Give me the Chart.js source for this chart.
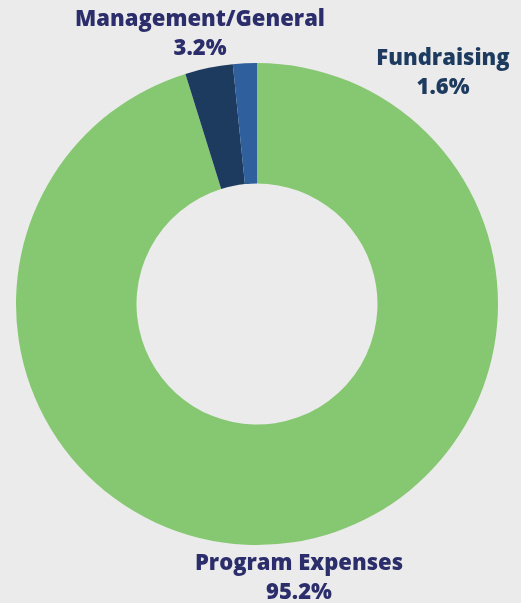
<!DOCTYPE html>
<html>
<head>
<meta charset="utf-8">
<script src="https://cdn.jsdelivr.net/npm/chart.js@4.4.1/dist/chart.umd.min.js"></script>
<style>
  html, body { margin: 0; padding: 0; background: #ebebeb; }
  #wrap { width: 521px; height: 603px; position: relative; }
</style>
</head>
<body>
<div id="wrap"><canvas id="pieChart"></canvas></div>
<script>
// data
const categories = ["Program Expenses", "Management/General", "Fundraising"];
const values = [95.2, 3.2, 1.6];
const colors = ["#86c872", "#1d3a5f", "#2f5f9c"];
const labelColors = ["#2c2e6b", "#2c2e6b", "#1d3a5f"];

// where each label sits (relative to the chart centre) - tuned by eye
const labelSpots = [
  { dx: 42, dy: 259 },
  { dx: -57, dy: -285 },
  { dx: 186, dy: -246 }
];

const labelPlugin = {
  id: "outsideLabels",
  afterDraw(chart) {
    const ctx = chart.ctx;
    const area = chart.chartArea;
    const cx = (area.left + area.right) / 2;
    const cy = (area.top + area.bottom) / 2;
    ctx.save();
    ctx.textAlign = "center";
    ctx.textBaseline = "middle";
    ctx.font = "800 22px 'Open Sans', sans-serif";
    categories.forEach((name, i) => {
      const s = labelSpots[i];
      ctx.fillStyle = labelColors[i];
      ctx.fillText(name, cx + s.dx, cy + s.dy + 1);
      ctx.fillText(values[i].toFixed(1) + "%", cx + s.dx, cy + s.dy + 30);
    });
    ctx.restore();
  }
};

let pieCtx = document.getElementById("pieChart").getContext("2d");
new Chart(pieCtx, {
  type: "doughnut",
  data: {
    labels: categories,
    datasets: [{
      data: values,
      backgroundColor: colors,
      borderWidth: 0
    }]
  },
  options: {
    responsive: true,
    maintainAspectRatio: false,
    animation: false,
    cutout: "50%",
    layout: { padding: { left: 16, right: 23, top: 63, bottom: 58 } },
    plugins: {
      legend: { display: false },
      tooltip: { enabled: false }
    }
  },
  plugins: [labelPlugin]
});
</script>
</body>
</html>
